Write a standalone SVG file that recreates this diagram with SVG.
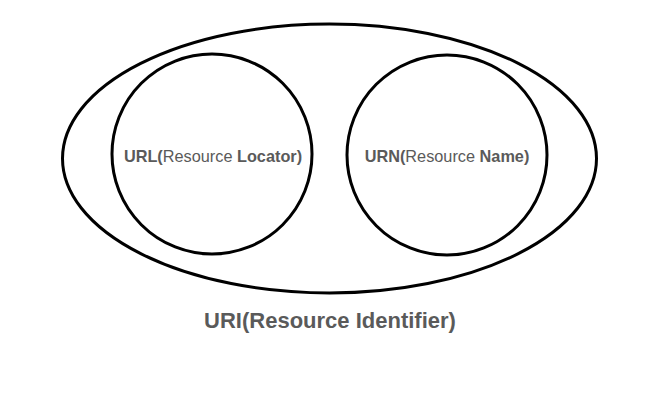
<svg xmlns="http://www.w3.org/2000/svg" width="671" height="413" viewBox="0 0 671 413">
<style>
.shape{fill:none;stroke:#000;stroke-width:3}
.lbl{font-family:"Liberation Sans",Arial,sans-serif;fill:#5a5a5a;text-anchor:middle}
.b{font-weight:bold}
</style>
<rect width="671" height="413" fill="#fff"/>
<g id="uri">
<ellipse class="shape" cx="329.5" cy="158.5" rx="267" ry="134.5"/>
<text class="lbl b" x="330" y="328" font-size="22">URI(Resource Identifier)</text>
</g>
<g id="url">
<circle class="shape" cx="212" cy="154" r="100"/>
<text class="lbl" x="213" y="162" font-size="16.3"><tspan class="b">URL(</tspan>Resource <tspan class="b">Locator)</tspan></text>
</g>
<g id="urn">
<circle class="shape" cx="447" cy="155" r="100"/>
<text class="lbl" x="447" y="162" font-size="16.3"><tspan class="b">URN(</tspan>Resource <tspan class="b">Name)</tspan></text>
</g>
<g id="connectors"></g>
</svg>
